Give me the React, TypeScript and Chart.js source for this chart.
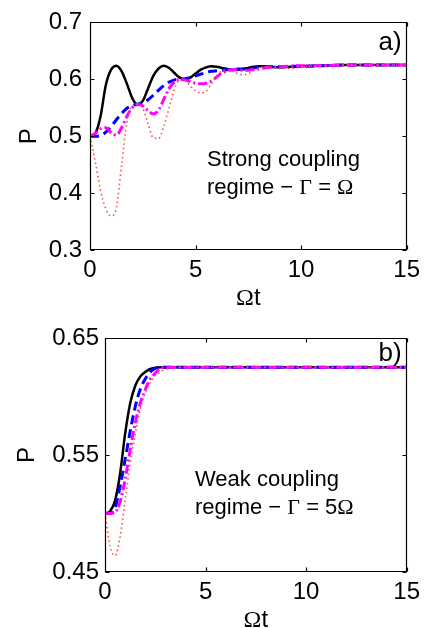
import React, { useEffect, useRef } from "react";
import { Chart, registerables } from "chart.js";

Chart.register(...registerables);

const SANS = '"Liberation Sans", Arial, Helvetica, sans-serif';
const SERIF = '"Liberation Serif", "Times New Roman", serif';

// ---------- Panel a: strong coupling ----------
const TIME_A = [
  0, 0.25, 0.5, 0.75, 1, 1.25, 1.5, 1.75, 2, 2.25, 2.5, 2.75, 3, 3.25, 3.5, 3.75,
  4, 4.25, 4.5, 4.75, 5, 5.25, 5.5, 5.75, 6, 6.25, 6.5, 6.75, 7, 7.25, 7.5, 7.75,
  8, 8.25, 8.5, 9, 9.5, 10, 11, 12, 13, 14, 15,
];
const BLACK_A = [
  0.5, 0.505, 0.535, 0.59, 0.617, 0.624, 0.614, 0.592, 0.567, 0.556, 0.562, 0.584, 0.606, 0.619, 0.624, 0.62,
  0.611, 0.603, 0.6, 0.603, 0.61, 0.617, 0.621, 0.623, 0.622, 0.62, 0.618, 0.617, 0.617, 0.618, 0.62, 0.622,
  0.623, 0.623, 0.622, 0.621, 0.622, 0.623, 0.624, 0.625, 0.625, 0.625, 0.625,
];
const BLUE_A = [
  0.5, 0.5, 0.501, 0.507, 0.517, 0.529, 0.54, 0.549, 0.554, 0.556, 0.558, 0.564, 0.572, 0.581, 0.589, 0.595,
  0.599, 0.6, 0.601, 0.603, 0.606, 0.609, 0.612, 0.614, 0.615, 0.616, 0.617, 0.617, 0.618, 0.618, 0.619, 0.62,
  0.621, 0.621, 0.622, 0.622, 0.623, 0.623, 0.624, 0.625, 0.625, 0.625, 0.625,
];
const MAGENTA_A = [
  0.5, 0.505, 0.513, 0.515, 0.506, 0.502, 0.515, 0.535, 0.55, 0.556, 0.553, 0.545, 0.539, 0.546, 0.565, 0.584,
  0.595, 0.6, 0.599, 0.596, 0.593, 0.592, 0.593, 0.597, 0.604, 0.611, 0.615, 0.617, 0.617, 0.616, 0.616, 0.617,
  0.618, 0.62, 0.621, 0.622, 0.623, 0.624, 0.624, 0.625, 0.625, 0.625, 0.625,
];
const RED_A = [
  0.5, 0.455, 0.405, 0.372, 0.36, 0.374, 0.45, 0.525, 0.553, 0.556, 0.549, 0.522, 0.497, 0.496, 0.518, 0.55,
  0.583, 0.599, 0.598, 0.588, 0.58, 0.576, 0.579, 0.592, 0.606, 0.615, 0.617, 0.614, 0.61, 0.608, 0.61, 0.615,
  0.62, 0.622, 0.622, 0.619, 0.619, 0.622, 0.624, 0.625, 0.625, 0.625, 0.625,
];
const YTICKS_A = [0.3, 0.4, 0.5, 0.6, 0.7];

// ---------- Panel b: weak coupling ----------
const TIME_B = [0, 0.25, 0.5, 0.75, 1, 1.25, 1.5, 1.75, 2, 2.25, 2.5, 2.75, 3, 3.5, 4, 5, 7.5, 10, 12.5, 15];
const BLACK_B = [
  0.5, 0.502, 0.511, 0.534, 0.568, 0.594, 0.609, 0.617, 0.621, 0.6235, 0.6245, 0.625, 0.625, 0.625, 0.625, 0.625,
  0.625, 0.625, 0.625, 0.625,
];
const BLUE_B = [
  0.5, 0.5, 0.505, 0.523, 0.546, 0.57, 0.591, 0.606, 0.615, 0.621, 0.624, 0.625, 0.625, 0.625, 0.625, 0.625,
  0.625, 0.625, 0.625, 0.625,
];
const MAGENTA_B = [
  0.5, 0.5, 0.501, 0.51, 0.529, 0.554, 0.577, 0.594, 0.606, 0.615, 0.62, 0.624, 0.625, 0.625, 0.625, 0.625,
  0.625, 0.625, 0.625, 0.625,
];
const RED_B = [
  0.5, 0.472, 0.464, 0.48, 0.511, 0.542, 0.567, 0.589, 0.603, 0.612, 0.618, 0.621, 0.623, 0.625, 0.625, 0.625,
  0.625, 0.625, 0.625, 0.625,
];
const YTICKS_B = [0.45, 0.55, 0.65];

const XTICKS = [0, 5, 10, 15];

type Run = [string, string];
const X_TITLE: Run[] = [["Ω", SERIF], ["t", SANS]];
const Y_TITLE = "P";
const NOTE_A: Run[][] = [
  [["Strong coupling", SANS]],
  [["regime − ", SANS], ["Γ", SERIF], [" = ", SANS], ["Ω", SERIF]],
];
const NOTE_B: Run[][] = [
  [["Weak coupling", SANS]],
  [["regime − ", SANS], ["Γ", SERIF], [" = 5", SANS], ["Ω", SERIF]],
];

function drawRuns(ctx: CanvasRenderingContext2D, runs: Run[], x: number, y: number, size: number, align: "left" | "center") {
  let total = 0;
  const widths = runs.map(([t, f]) => {
    ctx.font = `${size}px ${f}`;
    const w = ctx.measureText(t).width;
    total += w;
    return w;
  });
  let cx = align === "center" ? x - total / 2 : x;
  ctx.textAlign = "left";
  ctx.textBaseline = "alphabetic";
  runs.forEach(([t, f], i) => {
    ctx.font = `${size}px ${f}`;
    ctx.fillText(t, cx, y);
    cx += widths[i];
  });
}

const decoPlugin = {
  id: "deco",
  afterDraw(chart: any, _args: any, opts: any) {
    const { ctx, chartArea: ca } = chart;
    const xs = chart.scales.x;
    const ys = chart.scales.y;
    const L = Math.round(ca.left) + 0.5;
    const R = Math.round(ca.right) - 0.5;
    const T = Math.round(ca.top) + 0.5;
    const B = Math.round(ca.bottom) - 0.5;
    ctx.save();
    ctx.strokeStyle = "#000";
    ctx.lineWidth = 1.2;
    ctx.beginPath();
    ctx.rect(L, T, R - L, B - T);
    const tl = 4;
    xs.ticks.forEach((t: any) => {
      const p = Math.round(xs.getPixelForValue(t.value)) + 0.5;
      ctx.moveTo(p, B);
      ctx.lineTo(p, B - tl);
      ctx.moveTo(p, T);
      ctx.lineTo(p, T + tl);
    });
    ys.ticks.forEach((t: any) => {
      const p = Math.round(ys.getPixelForValue(t.value)) + 0.5;
      ctx.moveTo(L, p);
      ctx.lineTo(L + tl, p);
      ctx.moveTo(R, p);
      ctx.lineTo(R - tl, p);
    });
    ctx.stroke();

    ctx.fillStyle = "#000";
    // x title
    drawRuns(ctx, X_TITLE, (ca.left + ca.right) / 2, ca.bottom + 55, 24, "center");
    // y title
    ctx.save();
    ctx.translate(opts.yTitleX, (ca.top + ca.bottom) / 2);
    ctx.rotate(-Math.PI / 2);
    ctx.font = `24px ${SANS}`;
    ctx.textAlign = "center";
    ctx.textBaseline = "alphabetic";
    ctx.fillText(Y_TITLE, 0, 0);
    ctx.restore();
    // panel label
    ctx.font = `26px ${SANS}`;
    ctx.textAlign = "right";
    ctx.textBaseline = "alphabetic";
    ctx.fillText(opts.label, ca.right - 5, ca.top + opts.labelDy);
    // annotation
    (opts.note as Run[][]).forEach((line, i) => {
      drawRuns(ctx, line, opts.noteX, opts.noteY + i * 28, 22, "left");
    });
    ctx.restore();
  },
};

function makeConfig(
  time: number[],
  black: number[],
  blue: number[],
  magenta: number[],
  red: number[],
  yMin: number,
  yMax: number,
  yTicks: number[],
  decimals: number,
  layout: { top: number; right: number; yWidth: number; xHeight: number; yPad: number },
  deco: any
): any {
  const pts = (v: number[]) => time.map((t, i) => ({ x: t, y: v[i] }));
  const common = {
    pointRadius: 0,
    fill: false,
    cubicInterpolationMode: "monotone",
  };
  return {
    type: "line",
    data: {
      datasets: [
        { ...common, data: pts(red), borderColor: "#ff4a4a", borderWidth: 1.6, borderDash: [1.5, 3] },
        { ...common, data: pts(magenta), borderColor: "#ff00ff", borderWidth: 3, borderDash: [9, 3, 2, 3] },
        { ...common, data: pts(blue), borderColor: "#0000ff", borderWidth: 3, borderDash: [9, 5] },
        { ...common, data: pts(black), borderColor: "#000000", borderWidth: 2.5 },
      ],
    },
    options: {
      animation: false,
      responsive: false,
      events: [],
      layout: { padding: { top: layout.top, right: layout.right, left: 0, bottom: 0 } },
      plugins: {
        legend: { display: false },
        tooltip: { enabled: false },
        deco,
      },
      scales: {
        x: {
          type: "linear",
          min: 0,
          max: 15,
          afterBuildTicks: (s: any) => {
            s.ticks = XTICKS.map((v) => ({ value: v }));
          },
          afterFit: (s: any) => {
            s.height = layout.xHeight;
          },
          grid: { display: false, drawTicks: false },
          border: { display: false },
          ticks: {
            color: "#000",
            font: { family: SANS, size: 24 },
            padding: 6,
            maxRotation: 0,
            autoSkip: false,
            callback: (v: number) => String(v),
          },
        },
        y: {
          type: "linear",
          min: yMin,
          max: yMax,
          afterBuildTicks: (s: any) => {
            s.ticks = yTicks.map((v) => ({ value: v }));
          },
          afterFit: (s: any) => {
            s.width = layout.yWidth;
          },
          grid: { display: false, drawTicks: false },
          border: { display: false },
          ticks: {
            color: "#000",
            font: { family: SANS, size: 24 },
            padding: layout.yPad,
            autoSkip: false,
            callback: (v: number) => v.toFixed(decimals),
          },
        },
      },
    },
    plugins: [decoPlugin],
  };
}

export default function App() {
  const refA = useRef<HTMLCanvasElement>(null);
  const refB = useRef<HTMLCanvasElement>(null);

  useEffect(() => {
    const a = new Chart(
      refA.current as HTMLCanvasElement,
      makeConfig(
        TIME_A, BLACK_A, BLUE_A, MAGENTA_A, RED_A, 0.3, 0.7, YTICKS_A, 1,
        { top: 15, right: 17, yWidth: 90, xHeight: 64, yPad: 8 },
        { label: "a)", labelDy: 28, note: NOTE_A, noteX: 207, noteY: 166, yTitleX: 36 }
      )
    );
    const b = new Chart(
      refB.current as HTMLCanvasElement,
      makeConfig(
        TIME_B, BLACK_B, BLUE_B, MAGENTA_B, RED_B, 0.45, 0.65, YTICKS_B, 2,
        { top: 24, right: 17, yWidth: 105, xHeight: 56, yPad: 6 },
        { label: "b)", labelDy: 23, note: NOTE_B, noteX: 195, noteY: 172, yTitleX: 34 }
      )
    );
    return () => {
      a.destroy();
      b.destroy();
    };
  }, []);

  return (
    <div style={{ position: "absolute", left: 0, top: 0, width: 426, height: 628, background: "#fff" }}>
      <canvas ref={refA} width={426} height={314} style={{ display: "block", width: 426, height: 314 }} />
      <canvas ref={refB} width={426} height={314} style={{ display: "block", width: 426, height: 314 }} />
    </div>
  );
}
